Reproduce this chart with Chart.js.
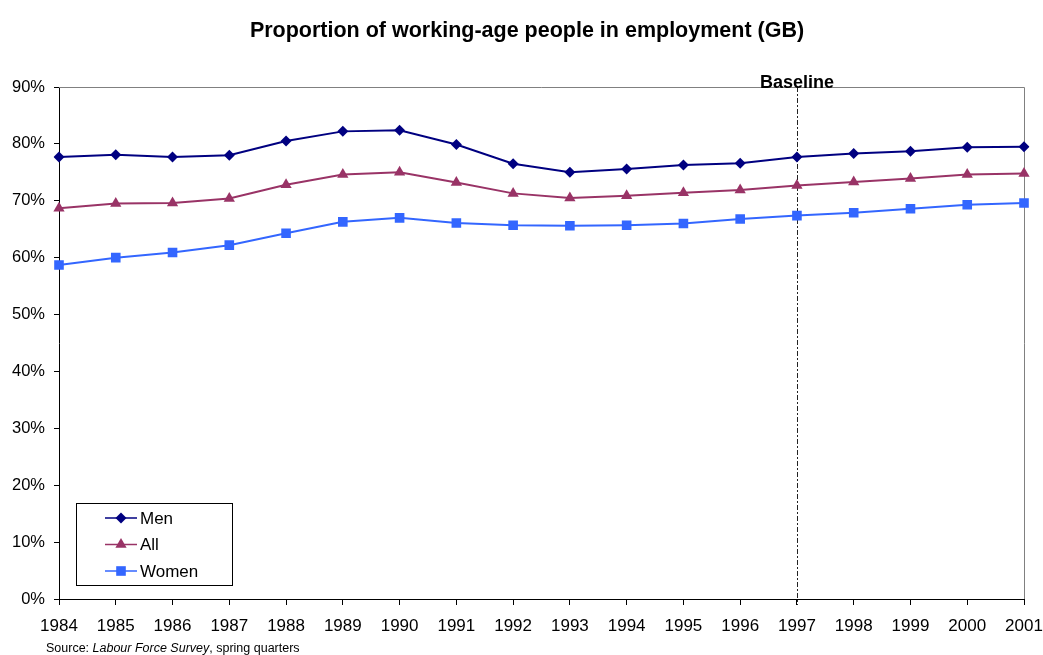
<!DOCTYPE html>
<html>
<head>
<meta charset="utf-8">
<script src="https://cdn.jsdelivr.net/npm/chart.js@4/dist/chart.umd.min.js"></script>
<style>
  html, body { margin: 0; padding: 0; background: #fff; }
  #wrap { position: relative; width: 1043px; height: 655px; }
</style>
</head>
<body>
<div id="wrap"><canvas id="chart" width="1043" height="655"></canvas></div>
<script>
// Daten
const years = ['1984', '1985', '1986', '1987', '1988', '1989', '1990', '1991', '1992',
    '1993', '1994', '1995', '1996', '1997', '1998', '1999', '2000', '2001'];
const men = [77.7, 78.1, 77.7, 78.0, 80.5, 82.2, 82.4, 79.9, 76.5,
    75.0, 75.6, 76.3, 76.6, 77.7, 78.3, 78.7, 79.4, 79.5];
const all = [68.7, 69.5, 69.6, 70.4, 72.8, 74.6, 75.0, 73.2, 71.3,
    70.5, 70.9, 71.4, 71.9, 72.7, 73.3, 73.9, 74.6, 74.8];
const women = [58.7, 60.0, 60.9, 62.2, 64.3, 66.3, 67.0, 66.1, 65.7,
    65.6, 65.7, 66.0, 66.8, 67.4, 67.9, 68.6, 69.3, 69.6];
const baselineYear = '1997';

const titleText = 'Proportion of working-age people in employment (GB)';
const FONT = '"Liberation Sans", Arial, sans-serif';

// Titel, Rahmen, Baseline, Legende und Quelle zeichnen
const extras = {
    id: 'extras',
    beforeDatasetsDraw(chart) {
        const ctx = chart.ctx;
        const a = chart.chartArea;
        ctx.save();
        // grauer Rahmen oben und rechts
        ctx.strokeStyle = '#808080';
        ctx.lineWidth = 1;
        ctx.beginPath();
        ctx.moveTo(a.left, a.top + 0.5);
        ctx.lineTo(a.right + 0.5, a.top + 0.5);
        ctx.lineTo(a.right + 0.5, a.bottom);
        ctx.stroke();

        // Baseline
        const bx = Math.round(chart.scales.x.getPixelForValue(years.indexOf(baselineYear))) + 0.5;
        ctx.strokeStyle = '#222';
        ctx.setLineDash([5, 2, 2, 2]);
        ctx.beginPath();
        ctx.moveTo(bx, a.top);
        ctx.lineTo(bx, a.bottom + 6);
        ctx.stroke();
        ctx.setLineDash([]);
        ctx.restore();
    },
    afterDraw(chart) {
        const ctx = chart.ctx;
        ctx.save();
        ctx.fillStyle = '#000';
        ctx.textAlign = 'center';
        ctx.textBaseline = 'alphabetic';
        ctx.font = 'bold 21.5px ' + FONT;
        ctx.fillText(titleText, 527, 37);

        ctx.font = 'bold 18px ' + FONT;
        const bx = chart.scales.x.getPixelForValue(years.indexOf(baselineYear));
        ctx.fillText('Baseline', bx, 88);

        // Legende
        const lx = 76.5, ly = 503.5, lw = 156, lh = 82;
        ctx.fillStyle = '#fff';
        ctx.fillRect(lx, ly, lw, lh);
        ctx.strokeStyle = '#000';
        ctx.lineWidth = 1;
        ctx.strokeRect(lx, ly, lw, lh);
        ctx.textAlign = 'left';
        ctx.textBaseline = 'middle';
        ctx.font = '17px ' + FONT;
        chart.data.datasets.forEach((ds, i) => {
            const y = 518 + i * 26.5;
            ctx.strokeStyle = ds.borderColor;
            ctx.lineWidth = 1.5;
            ctx.beginPath();
            ctx.moveTo(105, y);
            ctx.lineTo(137, y);
            ctx.stroke();
            ctx.fillStyle = ds.backgroundColor;
            Chart.helpers.drawPoint(ctx, {
                pointStyle: ds.pointStyle,
                radius: ds.pointRadius,
                borderWidth: 0
            }, 121, y);
            ctx.fillStyle = '#000';
            ctx.fillText(ds.label, 140, y + 1);
        });

        // Quelle
        ctx.textBaseline = 'alphabetic';
        let sx = 46;
        const sy = 652;
        const parts = [['Source: ', ''], ['Labour Force Survey', 'italic '], [', spring quarters', '']];
        parts.forEach(p => {
            ctx.font = p[1] + '12.5px ' + FONT;
            ctx.fillText(p[0], sx, sy);
            sx += ctx.measureText(p[0]).width;
        });
        ctx.restore();
    }
};

function series(label, data, color, style, radius) {
    return {
        label: label,
        data: data,
        borderColor: color,
        backgroundColor: color,
        borderWidth: 2,
        pointStyle: style,
        pointRadius: radius,
        pointBorderWidth: 0,
        pointBackgroundColor: color,
        tension: 0
    };
}

new Chart(document.getElementById('chart'), {
    type: 'line',
    data: {
        labels: years,
        datasets: [
            series('Men', men, '#000080', 'rectRot', 5.5),
            series('All', all, '#993366', 'triangle', 6.5),
            series('Women', women, '#3366FF', 'rect', 6.8)
        ]
    },
    options: {
        responsive: false,
        animation: false,
        layout: { padding: { left: 0, right: 19, top: 87, bottom: 0 } },
        plugins: {
            legend: { display: false },
            title: { display: false },
            tooltip: { enabled: false }
        },
        scales: {
            x: {
                offset: false,
                grid: { display: true, drawOnChartArea: false, tickLength: 6, color: '#000' },
                border: { color: '#000', width: 1 },
                ticks: { color: '#000', font: { family: FONT, size: 17 }, padding: 11, maxRotation: 0, autoSkip: false },
                afterFit(scale) {
                    scale.height = 56;
                    scale.paddingLeft = 0;
                    scale.paddingRight = 0;
                }
            },
            y: {
                min: 0,
                max: 90,
                grid: { display: true, drawOnChartArea: false, tickLength: 5, color: '#000' },
                border: { color: '#000', width: 1 },
                ticks: {
                    stepSize: 10,
                    color: '#000',
                    font: { family: FONT, size: 16.5 },
                    padding: 9,
                    callback: v => v + '%'
                },
                afterFit(scale) {
                    scale.width = 59;
                    scale.paddingTop = 0;
                    scale.paddingBottom = 0;
                }
            }
        }
    },
    plugins: [extras]
});
</script>
</body>
</html>
